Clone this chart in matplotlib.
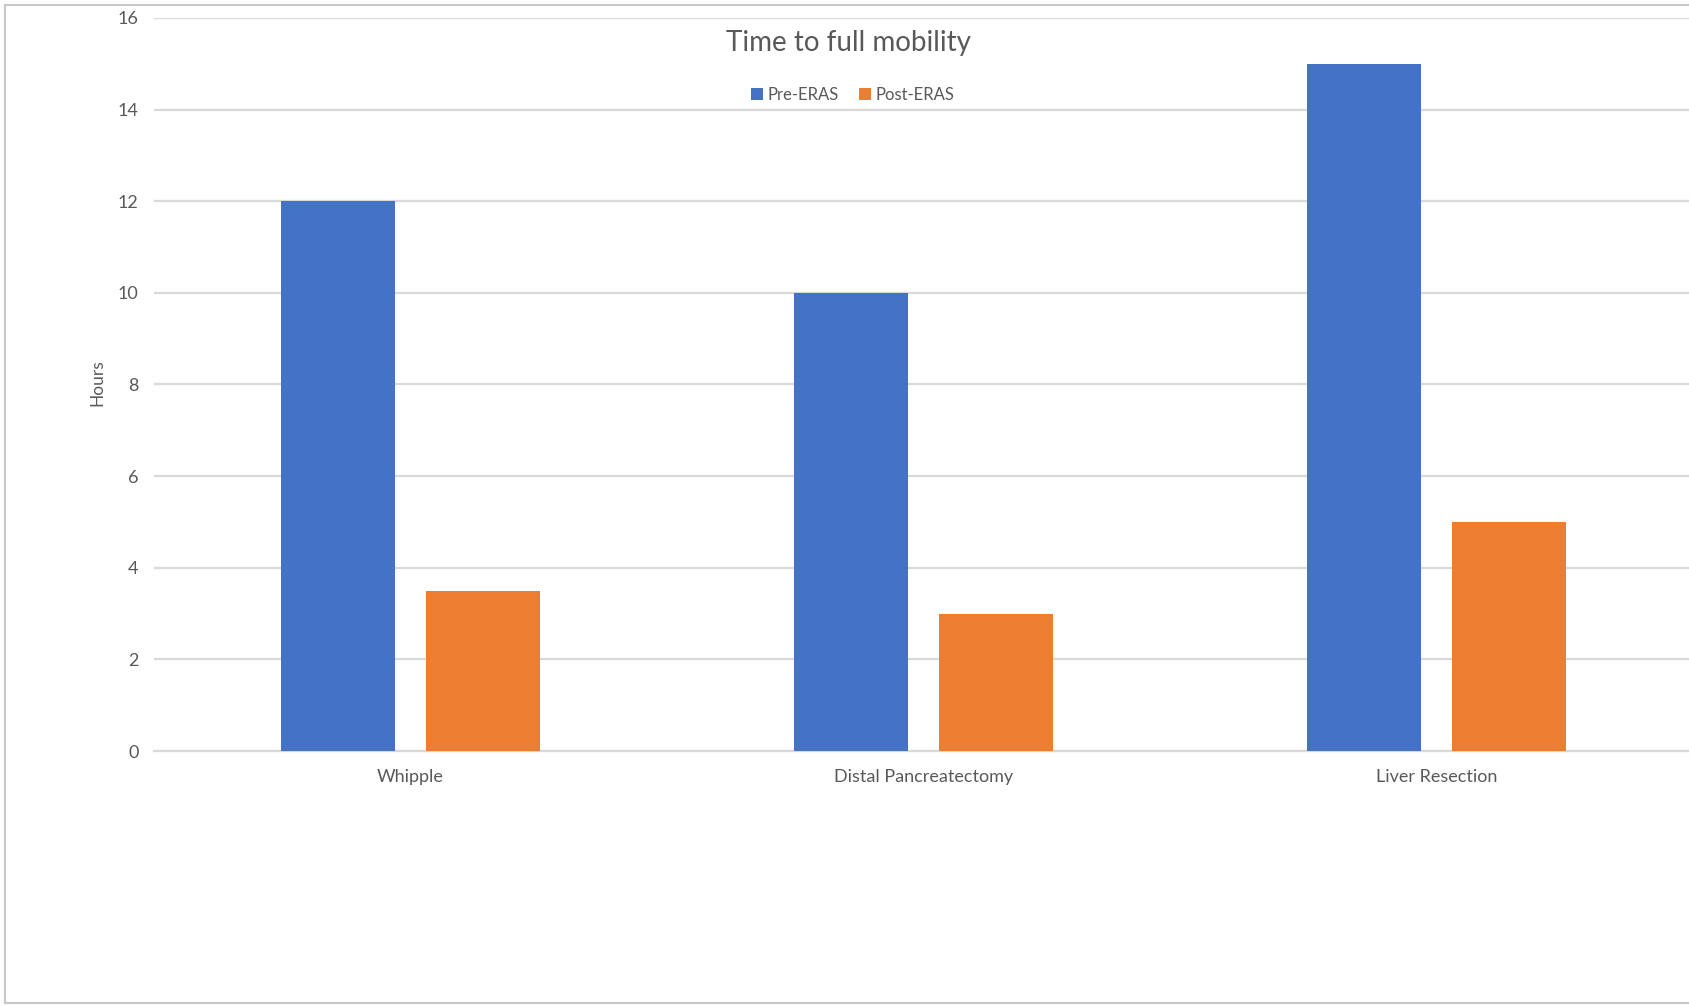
import numpy as np
import matplotlib.pyplot as plt
from matplotlib.lines import Line2D

# Procedures and recovery times (hours)
procedures = ["Whipple", "Distal Pancreatectomy", "Liver Resection"]
pre_eras = [12, 10, 15]
post_eras = [3.5, 3, 5]
y_ticks = [0, 2, 4, 6, 8, 10, 12, 14, 16]

blue = "#4472C4"
orange = "#ED7D31"
text_grey = "#595959"
grid_grey = "#D9D9D9"

plt.rcParams['font.family'] = ['Lato', 'DejaVu Sans']

fig = plt.figure(figsize=(16.9, 10.05), dpi=100)
ax = fig.add_axes([154 / 1690, 254 / 1005, 1539 / 1690, 733 / 1005])

x = np.arange(len(procedures))
width = 0.222
offset = 0.142
ax.bar(x - offset, pre_eras, width, color=blue, label="Pre-ERAS", zorder=3)
ax.bar(x + offset, post_eras, width, color=orange, label="Post-ERAS", zorder=3)

ax.set_xlim(-0.5, 2.5)
ax.set_ylim(0, 16)
ax.set_yticks(y_ticks)
ax.set_xticks(x)
ax.set_xticklabels(procedures)
ax.yaxis.grid(True, color=grid_grey, linewidth=1.6, zorder=0)
ax.set_axisbelow(True)
for side in ["top", "right", "left"]:
    ax.spines[side].set_visible(False)
ax.spines["bottom"].set_color(grid_grey)
ax.spines["bottom"].set_linewidth(1.6)
ax.tick_params(axis="both", length=0, labelsize=13, colors=text_grey)
ax.tick_params(axis="y", pad=11)
ax.tick_params(axis="x", pad=13)

fig.text(97 / 1690, 1 - 383 / 1005, "Hours", rotation=90, ha="center",
         va="center", fontsize=12.5, color=text_grey)
fig.text(848 / 1690, 1 - 43 / 1005, "Time to full mobility", ha="center",
         va="center", fontsize=20, color=text_grey)

fig.legend(loc="center", bbox_to_anchor=(853 / 1690, 1 - 95 / 1005), ncol=2,
           frameon=False, fontsize=12, labelcolor=text_grey, handlelength=0.7,
           handleheight=0.7, handletextpad=0.3, columnspacing=1.2)

# Outer frame around the chart
frame_kw = dict(color="#C8C8C8", linewidth=1.5, transform=fig.transFigure)
fig.add_artist(Line2D([5 / 1690, 5 / 1690], [1 - 5 / 1005, 1 - 1003 / 1005], **frame_kw))
fig.add_artist(Line2D([5 / 1690, 1], [1 - 5 / 1005, 1 - 5 / 1005], **frame_kw))
fig.add_artist(Line2D([5 / 1690, 1], [1 - 1003 / 1005, 1 - 1003 / 1005], **frame_kw))

fig.savefig("out.png", dpi=100)
